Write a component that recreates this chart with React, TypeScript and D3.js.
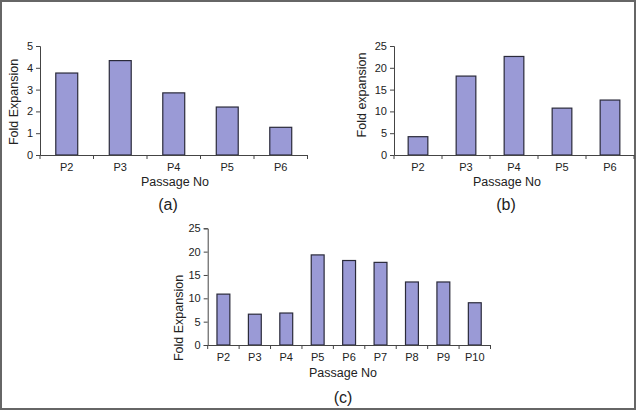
import React, { useEffect, useRef } from 'react';
import * as d3 from 'd3';

const passagesA = ['P2', 'P3', 'P4', 'P5', 'P6'];
const foldA = [3.76, 4.33, 2.85, 2.2, 1.27];
const ticksA = [0, 1, 2, 3, 4, 5];

const passagesB = ['P2', 'P3', 'P4', 'P5', 'P6'];
const foldB = [4.2, 18.1, 22.6, 10.75, 12.6];
const ticksB = [0, 5, 10, 15, 20, 25];

const passagesC = ['P2', 'P3', 'P4', 'P5', 'P6', 'P7', 'P8', 'P9', 'P10'];
const foldC = [10.9, 6.6, 6.85, 19.3, 18.1, 17.7, 13.5, 13.5, 9.05];
const ticksC = [0, 5, 10, 15, 20, 25];

const W = 636;
const H = 410;
const FONT = 'Liberation Sans, Arial, sans-serif';
const BAR = '#9a9ad6';

const App = () => {
  const ref = useRef<SVGSVGElement>(null);

  useEffect(() => {
    const svg = d3.select(ref.current);
    svg.selectAll('*').remove();

    // outer frame
    svg.append('rect')
      .attr('x', 1).attr('y', 1)
      .attr('width', W - 2).attr('height', H - 2)
      .attr('fill', '#fff')
      .attr('stroke', '#666')
      .attr('stroke-width', 2);

    const panel = (opt) => {
      const { cats, vals, ticks, x0, x1, yBase, yTop, yLabel, yLabelX, yLabelY, titleX, titleY, tag, tagX, tagY } = opt;
      const x = d3.scaleBand().domain(cats).range([x0, x1]).paddingInner(0).paddingOuter(0);
      const y = d3.scaleLinear().domain([0, ticks[ticks.length - 1]]).range([yBase, yTop]);
      const g = svg.append('g');
      const bw = x.bandwidth() * 0.41;

      // bars
      g.selectAll('rect.bar')
        .data(vals)
        .enter()
        .append('rect')
        .attr('class', 'bar')
        .attr('x', (d, i) => x(cats[i]) + (x.bandwidth() - bw) / 2)
        .attr('y', d => y(d))
        .attr('width', bw)
        .attr('height', d => yBase - y(d))
        .attr('fill', BAR)
        .attr('stroke', '#2a2a3a')
        .attr('stroke-width', 1.2);

      // y axis
      const ya = g.append('g')
        .attr('transform', `translate(${x0},0)`)
        .call(d3.axisLeft(y).tickValues(ticks).tickSize(4).tickPadding(3).tickFormat(d3.format('d')));
      ya.select('.domain').attr('stroke', '#444');
      ya.selectAll('line').attr('stroke', '#444');
      ya.selectAll('text').attr('font-family', FONT).attr('font-size', 11).attr('fill', '#222');

      // x axis, ticks sit between categories
      const xa = g.append('g')
        .attr('transform', `translate(0,${yBase})`)
        .call(d3.axisBottom(x).tickSize(0).tickPadding(8));
      xa.select('.domain').attr('stroke', '#444');
      xa.selectAll('text').attr('font-family', FONT).attr('font-size', 11).attr('fill', '#222');
      g.selectAll('line.xt')
        .data(cats.concat(['end']))
        .enter()
        .append('line')
        .attr('class', 'xt')
        .attr('x1', (d, i) => (i < cats.length ? x(d) : x1))
        .attr('x2', (d, i) => (i < cats.length ? x(d) : x1))
        .attr('y1', yBase)
        .attr('y2', yBase + 4)
        .attr('stroke', '#444');

      // titles
      g.append('text')
        .attr('transform', `translate(${yLabelX},${yLabelY}) rotate(-90)`)
        .attr('text-anchor', 'middle')
        .attr('dominant-baseline', 'middle')
        .attr('font-family', FONT)
        .attr('font-size', 12.5)
        .attr('fill', '#222')
        .text(yLabel);

      g.append('text')
        .attr('x', titleX)
        .attr('y', titleY)
        .attr('text-anchor', 'middle')
        .attr('dominant-baseline', 'middle')
        .attr('font-family', FONT)
        .attr('font-size', 12.5)
        .attr('fill', '#222')
        .text('Passage No');

      g.append('text')
        .attr('x', tagX)
        .attr('y', tagY)
        .attr('text-anchor', 'middle')
        .attr('dominant-baseline', 'middle')
        .attr('font-family', FONT)
        .attr('font-size', 16)
        .attr('fill', '#222')
        .text(tag);
    };

    panel({
      cats: passagesA, vals: foldA, ticks: ticksA,
      x0: 40, x1: 307.5, yBase: 155, yTop: 46,
      yLabel: 'Fold Expansion', yLabelX: 15, yLabelY: 102,
      titleX: 175, titleY: 183, tag: '(a)', tagX: 168, tagY: 206,
    });
    panel({
      cats: passagesB, vals: foldB, ticks: ticksB,
      x0: 394, x1: 634, yBase: 155, yTop: 46,
      yLabel: 'Fold expansion', yLabelX: 363, yLabelY: 95,
      titleX: 507, titleY: 183, tag: '(b)', tagX: 506, tagY: 206,
    });
    panel({
      cats: passagesC, vals: foldC, ticks: ticksC,
      x0: 207.7, x1: 490.5, yBase: 345, yTop: 228.3,
      yLabel: 'Fold Expansion', yLabelX: 180, yLabelY: 318,
      titleX: 343, titleY: 374, tag: '(c)', tagX: 343, tagY: 399,
    });
  }, []);

  return (
    <svg
      ref={ref}
      width={W}
      height={H}
      style={{ position: 'absolute', left: 0, top: 0 }}
    />
  );
};

export default App;
